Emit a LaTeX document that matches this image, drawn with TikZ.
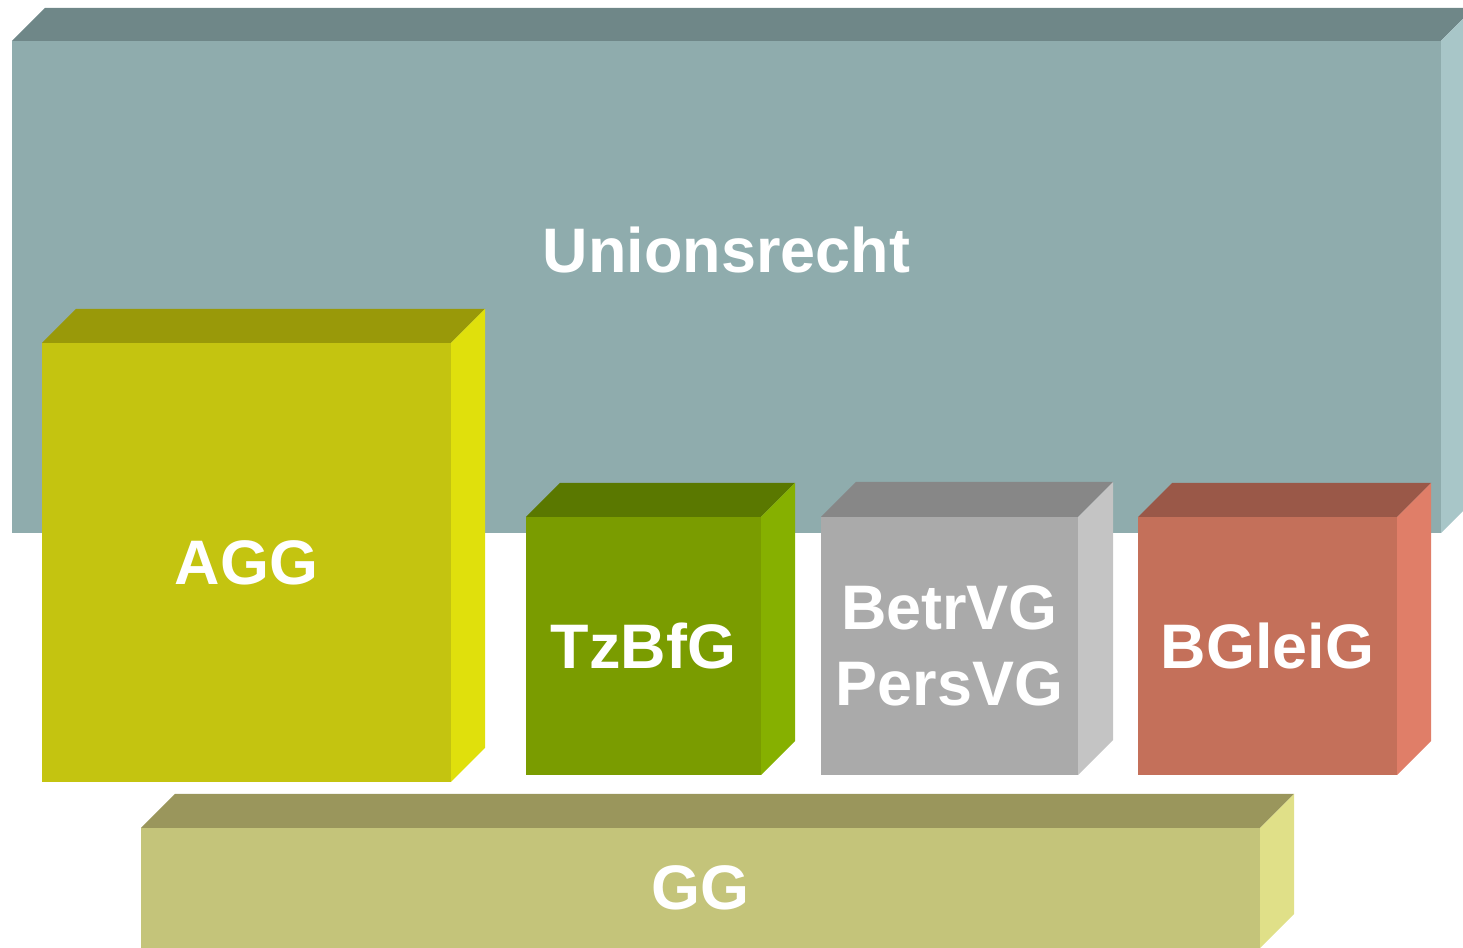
\documentclass[tikz,border=0pt]{standalone}
\usepackage{fontspec}
\setmainfont{Liberation Sans}
\usetikzlibrary{positioning}

\definecolor{unionfront}{HTML}{8FACAD}
\definecolor{uniontop}{HTML}{6F8788}
\definecolor{unionside}{HTML}{A8C6C8}
\definecolor{aggfront}{HTML}{C4C410}
\definecolor{aggtop}{HTML}{999909}
\definecolor{aggside}{HTML}{E0E00C}
\definecolor{tzfront}{HTML}{7A9C00}
\definecolor{tztop}{HTML}{5A7800}
\definecolor{tzside}{HTML}{86B000}
\definecolor{betrfront}{HTML}{AAAAAA}
\definecolor{betrtop}{HTML}{878787}
\definecolor{betrside}{HTML}{C4C4C4}
\definecolor{bgfront}{HTML}{C4705A}
\definecolor{bgtop}{HTML}{9A5848}
\definecolor{bgside}{HTML}{E07E68}
\definecolor{ggfront}{HTML}{C4C47A}
\definecolor{ggtop}{HTML}{9A965C}
\definecolor{ggside}{HTML}{E0E088}

% top and side face of a block: node, depth, top colour, side colour
\newcommand{\blockfaces}[4]{
    \fill[#3] (#1.north west) -- ++(#2,#2) -- ([shift={(#2,#2)}]#1.north east) -- (#1.north east) -- cycle;
    \fill[#4] (#1.north east) -- ++(#2,#2) -- ([shift={(#2,#2)}]#1.south east) -- (#1.south east) -- cycle;
}

\begin{document}
\begin{tikzpicture}
    \tikzstyle{front} = [rectangle, inner sep=0pt, outer sep=0pt, text=white, align=center, font=\fontsize{17.9}{21.6}\selectfont\bfseries];
    \tikzstyle{small} = [front, minimum width=2.57cm, minimum height=2.58cm];

    \useasboundingbox (0,0) rectangle (14.63,-9.48);
    \clip (0,0) rectangle (14.63,-9.48);

    \node[front, fill=unionfront, minimum width=14.29cm, minimum height=4.92cm] (union) at (7.265,-2.87) {};
    \blockfaces{union}{0.33}{uniontop}{unionside}
    \node[front] (unionlabel) at (7.265,-2.50) {Unionsrecht};

    \node[front, fill=aggfront, minimum width=4.09cm, minimum height=4.39cm] (agg) at (2.465,-5.625) {AGG};
    \blockfaces{agg}{0.34}{aggtop}{aggside}

    \node[small, fill=tzfront, minimum width=2.35cm] (tzbfg) at (6.435,-6.46) {TzBfG};
    \blockfaces{tzbfg}{0.34}{tztop}{tzside}

    \node[small, fill=betrfront, right=0.6 of tzbfg] (betrvg) {BetrVG\\PersVG};
    \blockfaces{betrvg}{0.35}{betrtop}{betrside}

    \node[small, fill=bgfront, right=0.6 of betrvg, minimum width=2.59cm] (bgleig) {BGleiG};
    \blockfaces{bgleig}{0.34}{bgtop}{bgside}

    \node[front, fill=ggfront, minimum width=11.19cm, minimum height=1.2cm] (gg) at (7.005,-8.88) {GG};
    \blockfaces{gg}{0.34}{ggtop}{ggside}
\end{tikzpicture}
\end{document}
